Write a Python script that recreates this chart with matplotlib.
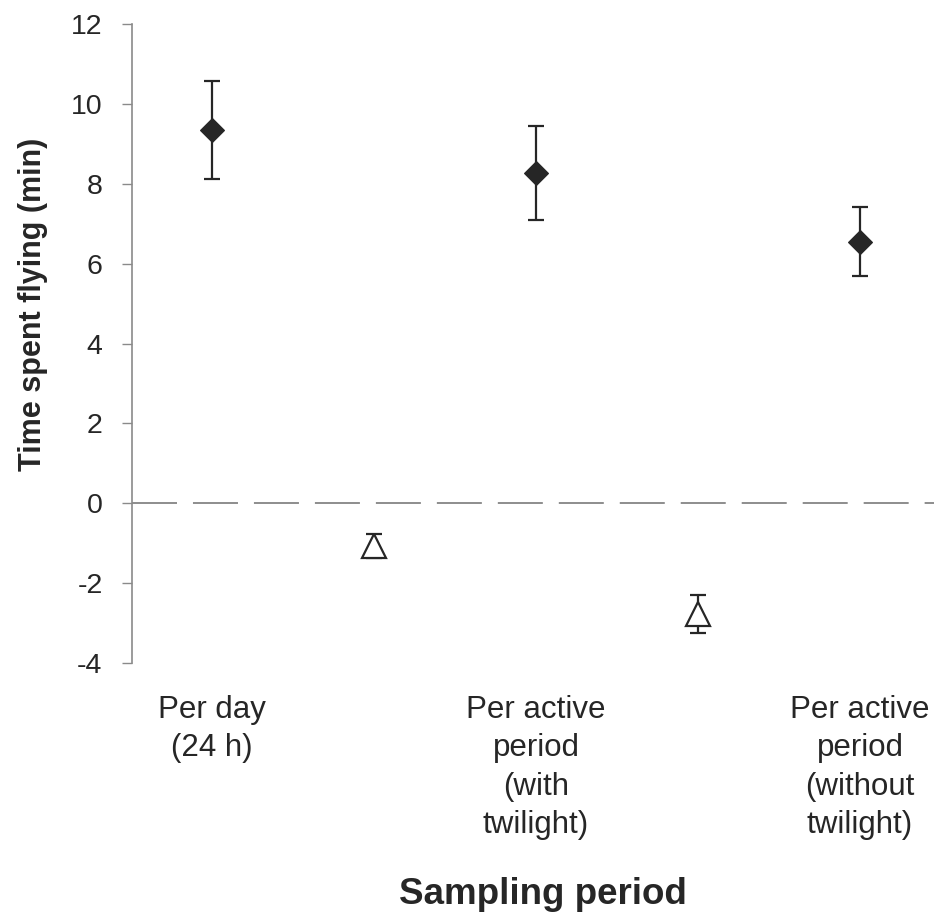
import matplotlib
matplotlib.use("Agg")
import matplotlib.pyplot as plt

plt.rcParams['font.family'] = ['Liberation Sans', 'DejaVu Sans']
plt.rcParams['lines.scale_dashes'] = False

# Data
categories = ["Per day\n(24 h)", "Per active\nperiod\n(with\ntwilight)", "Per active\nperiod\n(without\ntwilight)"]
cat_pos = [1, 3, 5]
diamond_x = [1, 3, 5]
diamond_y = [9.35, 8.27, 6.55]
diamond_err = [1.22, 1.18, 0.87]
triangle_x = [2, 4]
triangle_y = [-1.08, -2.77]
triangle_err = [0.30, 0.48]
yticks = [-4, -2, 0, 2, 4, 6, 8, 10, 12]

W, H = 934, 919
fig = plt.figure(figsize=(W / 100, H / 100), dpi=100)
ax_l, ax_r, ax_t, ax_b = 132, 934, 24, 663
ax = fig.add_axes([ax_l / W, (H - ax_b) / H, (ax_r - ax_l) / W, (ax_b - ax_t) / H])

ink = '#262626'
ax.errorbar(diamond_x, diamond_y, yerr=diamond_err, fmt='none', ecolor=ink,
            elinewidth=1.6, capsize=5.5, capthick=1.6, zorder=3)
ax.plot(diamond_x, diamond_y, linestyle='none', marker='D', markersize=12.5,
        markerfacecolor=ink, markeredgecolor=ink, markeredgewidth=0.8, zorder=4)
ax.errorbar(triangle_x, triangle_y, yerr=triangle_err, fmt='none', ecolor=ink,
            elinewidth=1.6, capsize=5.5, capthick=1.6, zorder=3)
ax.plot(triangle_x, triangle_y, linestyle='none', marker='^', markersize=17,
        markerfacecolor='white', markeredgecolor=ink, markeredgewidth=1.6, zorder=4)

ax.axhline(0, color='#7a7a7a', linewidth=1.2, linestyle=(0, (32.4, 11.5)), zorder=1)

ax.set_ylim(-4, 12)
x_left = 1 - (212 - ax_l) / 162.0
x_right = x_left + (ax_r - ax_l) / 162.0
ax.set_xlim(x_left, x_right)

for s in ['top', 'right', 'bottom']:
    ax.spines[s].set_visible(False)
ax.spines['left'].set_color('#8a8a8a')
ax.spines['left'].set_linewidth(1.2)

ax.set_yticks(yticks)
ax.set_yticklabels([str(t) for t in yticks])
ax.tick_params(axis='y', direction='out', length=7.2, width=1.0, color='#8a8a8a',
               labelsize=20.5, labelcolor=ink, pad=14)
ax.set_xticks(cat_pos)
ax.set_xticklabels(categories, fontsize=22.5, color=ink, linespacing=1.37)
ax.tick_params(axis='x', length=0, pad=23)

fig.text(33 / W, 1 - 304 / H, 'Time spent flying (min)', rotation=90, ha='center', va='center',
         fontsize=22, fontweight='bold', color=ink)
fig.text(543 / W, 1 - 894 / H, 'Sampling period', ha='center', va='center',
         fontsize=26.5, fontweight='bold', color=ink)

fig.savefig('out.png', dpi=100, facecolor='white')
